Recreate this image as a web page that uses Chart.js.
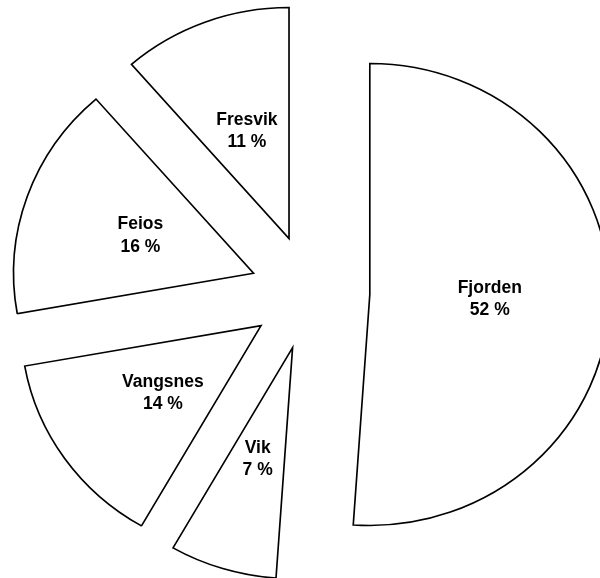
<!DOCTYPE html>
<html>
<head>
<meta charset="utf-8">
<script src="https://cdn.jsdelivr.net/npm/chart.js@4"></script>
<style>
  html, body { margin: 0; padding: 0; background: #ffffff; }
  #wrap { width: 600px; height: 578px; }
</style>
</head>
<body>
<div id="wrap"><canvas id="c" width="600" height="578"></canvas></div>
<script>
const categories = ['Fjorden', 'Vik', 'Vangsnes', 'Feios', 'Fresvik'];
const shares = [51.1, 7.2, 13.9, 16.4, 11.4];
const pctText = ['52 %', '7 %', '14 %', '16 %', '11 %'];

const EXPLODE = 57.6;
const STRETCH_X = 1.039;
const LABEL_FRAC = 0.5;

const baseArcDraw = Chart.ArcElement.prototype.draw;

const explodePlugin = {
  id: 'explode',
  beforeDatasetsDraw(chart) {
    const meta = chart.getDatasetMeta(0);
    meta.data.forEach(arc => {
      if (arc._exploded) return;
      arc._exploded = true;
      arc.draw = function (ctx, area) {
        const mid = (this.startAngle + this.endAngle) / 2;
        ctx.save();
        ctx.translate(this.x, this.y);
        ctx.scale(STRETCH_X, 1);
        ctx.translate(Math.cos(mid) * EXPLODE, Math.sin(mid) * EXPLODE);
        ctx.translate(-this.x, -this.y);
        baseArcDraw.call(this, ctx, area);
        ctx.restore();
      };
    });
  },
  afterDatasetsDraw(chart) {
    const ctx = chart.ctx;
    const meta = chart.getDatasetMeta(0);
    ctx.save();
    ctx.fillStyle = '#000000';
    ctx.font = 'bold 17.5px "Liberation Sans", Arial, sans-serif';
    ctx.textAlign = 'center';
    ctx.textBaseline = 'alphabetic';
    meta.data.forEach((arc, i) => {
      const mid = (arc.startAngle + arc.endAngle) / 2;
      const dist = EXPLODE + arc.outerRadius * LABEL_FRAC;
      const x = arc.x + STRETCH_X * dist * Math.cos(mid);
      const y = arc.y + dist * Math.sin(mid);
      ctx.fillText(categories[i], x, y - 5.5);
      ctx.fillText(pctText[i], x, y + 17);
    });
    ctx.restore();
  }
};

new Chart(document.getElementById('c'), {
  type: 'pie',
  data: {
    labels: categories,
    datasets: [{
      data: shares,
      backgroundColor: '#ffffff',
      borderColor: '#000000',
      borderWidth: 1.6,
      borderJoinStyle: 'miter',
      clip: false
    }]
  },
  options: {
    responsive: false,
    animation: false,
    events: [],
    radius: 231,
    layout: { padding: { left: 20, right: 0, top: 7, bottom: 0 } },
    plugins: {
      legend: { display: false },
      tooltip: { enabled: false },
      title: { display: false }
    }
  },
  plugins: [explodePlugin]
});
</script>
</body>
</html>
